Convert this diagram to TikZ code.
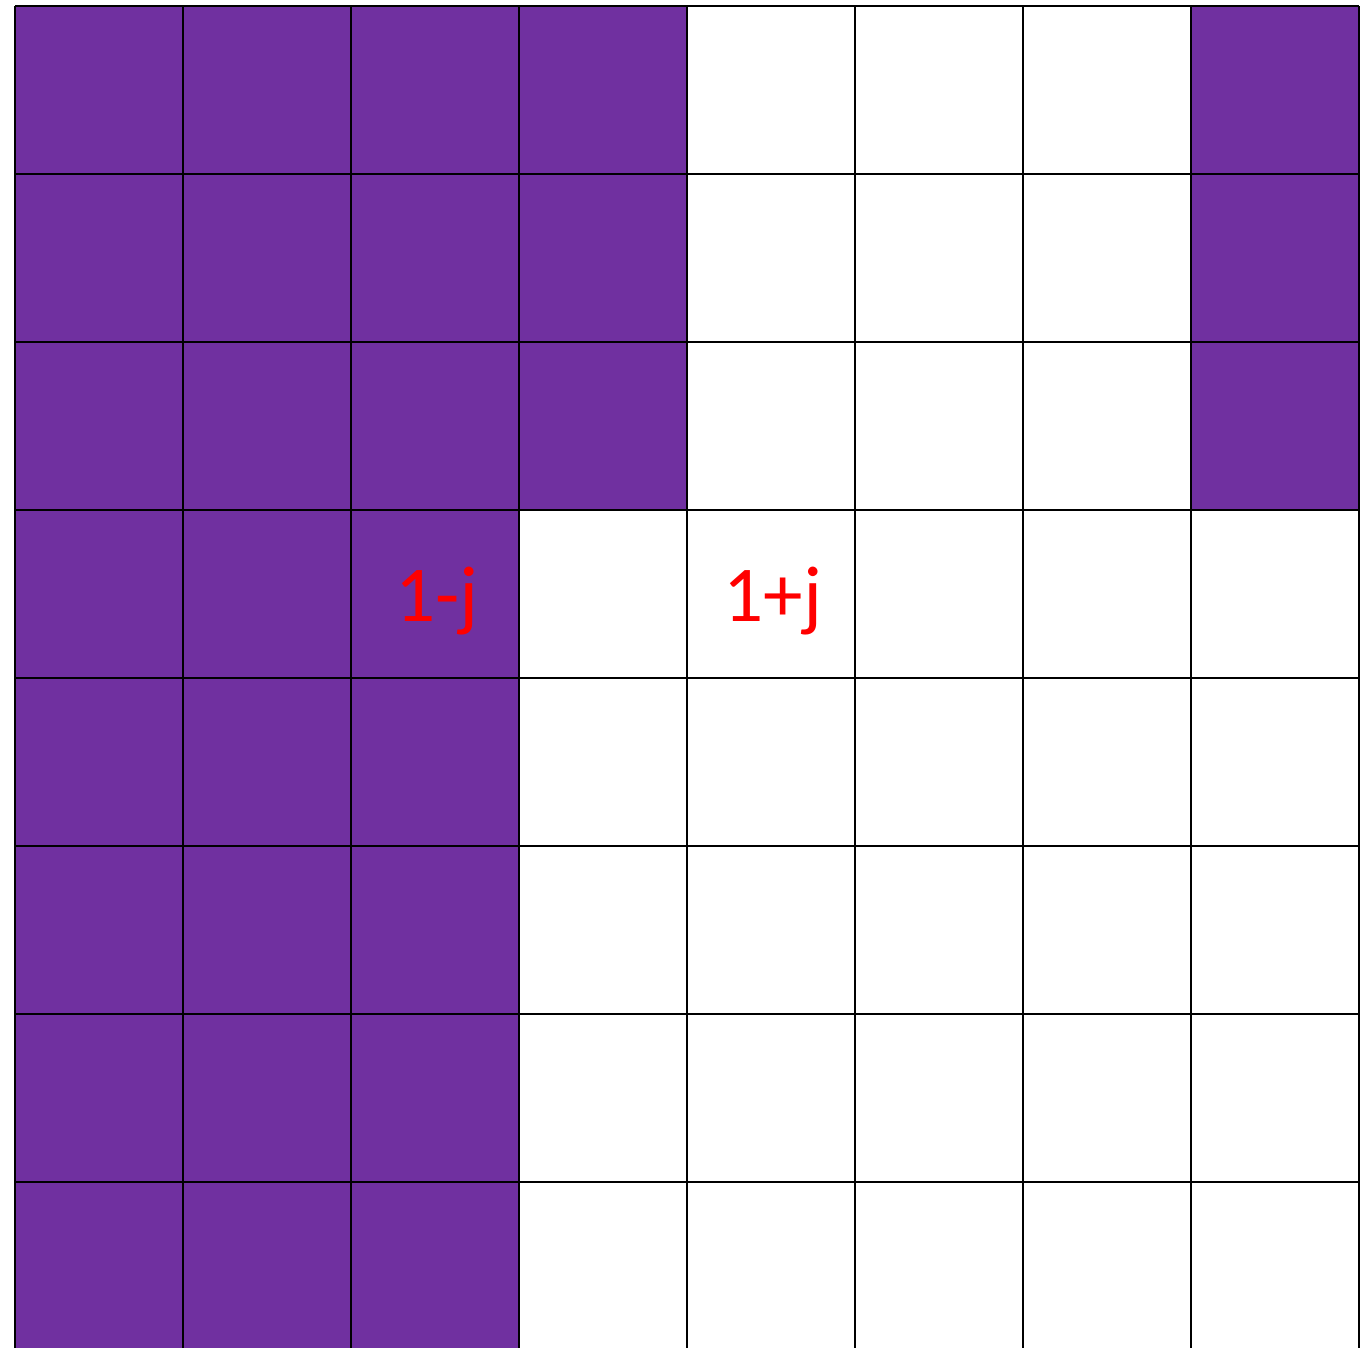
\documentclass[tikz,border=0pt]{standalone}
\usepackage{fontspec}
\setmainfont{Carlito}
\definecolor{cellpurple}{HTML}{7030A0}
\definecolor{labelred}{HTML}{FF0000}
\tikzset{
  gridline/.style={line width=0.02cm, draw=black},
  cellfill/.style={fill=cellpurple},
  cplabel/.style={text=labelred, font=\fontsize{22.5}{27}\selectfont, inner sep=0pt, anchor=base}
}
\begin{document}
\begin{tikzpicture}[x=0.01cm,y=-0.01cm]
\useasboundingbox (0,0) rectangle (1369,1348);
\fill[white] (0,0) rectangle (1369,1348);
% purple cells
\fill[cellpurple] (15,6) rectangle (687,510);
\fill[cellpurple] (1191,6) rectangle (1359,510);
\fill[cellpurple] (15,510) rectangle (519,1350);
% grid
\foreach \x in {15,183,351,519,687,855,1023,1191,1359}
  \draw[gridline] (\x,6) -- (\x,1350);
\foreach \y in {6,174,342,510,678,846,1014,1182}
  \draw[gridline] (15,\y) -- (1359,\y);
% labels
\node[cplabel] (lminus) at (437,621) {1-j};
\node[cplabel] (lplus) at (773,621) {1+j};
\end{tikzpicture}
\end{document}
